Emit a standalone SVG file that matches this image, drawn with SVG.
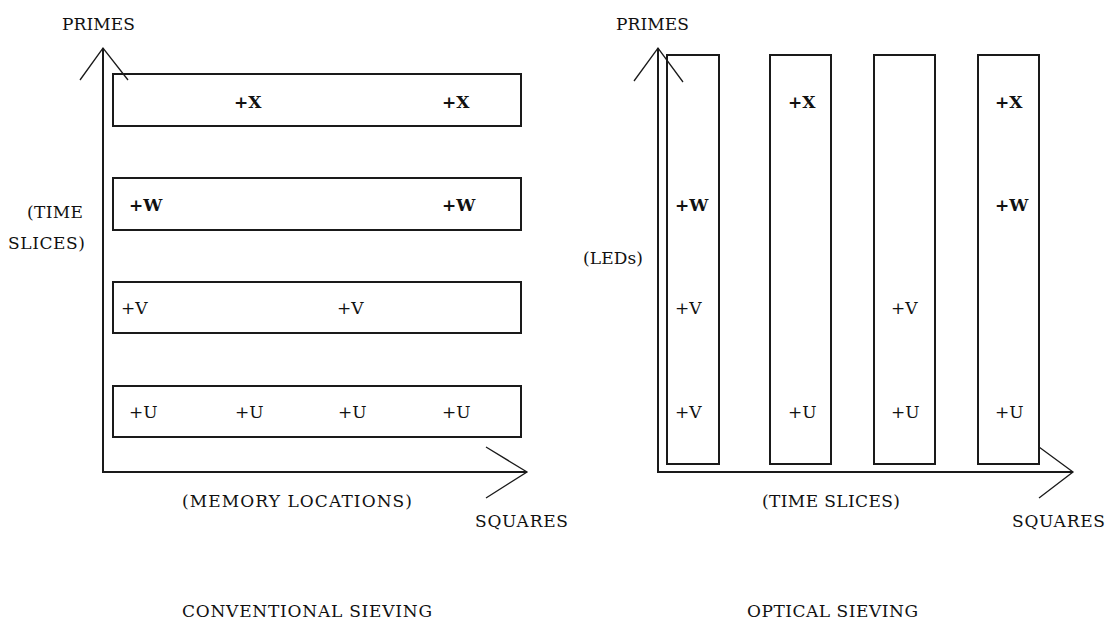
<svg xmlns="http://www.w3.org/2000/svg" width="1109" height="621" viewBox="0 0 1109 621">
<style>
.ax{fill:none;stroke:#1a1a1a;stroke-width:2}
.bx{fill:none;stroke:#1a1a1a;stroke-width:2}
.hd{fill:none;stroke:#1a1a1a;stroke-width:1.3}
text{font-family:"DejaVu Serif","Liberation Serif",serif;font-size:17px;fill:#111}
.b{font-weight:bold}
</style>
<rect width="1109" height="621" fill="#fff"/>
<g id="connectors">
  <line class="ax" x1="103" y1="48" x2="103" y2="472"/>
  <line class="ax" x1="102" y1="472" x2="527" y2="472"/>
  <polyline class="hd" points="80,80 103,48 128,80"/>
  <polyline class="hd" points="486,447 527,472 486,498"/>
  <line class="ax" x1="658" y1="48" x2="658" y2="472"/>
  <line class="ax" x1="657" y1="472" x2="1073" y2="472"/>
  <polyline class="hd" points="634,81 658,48 683,82"/>
  <polyline class="hd" points="1039,447 1073,472 1039,498"/>
</g>
<g id="conv-labels">
  <text x="62" y="30" textLength="73">PRIMES</text>
  <text x="27" y="218" textLength="56">(TIME</text>
  <text x="8" y="249" textLength="77">SLICES)</text>
  <text x="182" y="507" textLength="230">(MEMORY LOCATIONS)</text>
  <text x="475" y="527" textLength="93">SQUARES</text>
  <text x="182" y="617" textLength="250">CONVENTIONAL SIEVING</text>
</g>
<g id="conv-row-x">
  <rect class="bx" x="113" y="74" width="408" height="52"/>
  <text class="b" x="234" y="108">+X</text>
  <text class="b" x="442" y="108">+X</text>
</g>
<g id="conv-row-w">
  <rect class="bx" x="113" y="178" width="408" height="52"/>
  <text class="b" x="129" y="211">+W</text>
  <text class="b" x="442" y="211">+W</text>
</g>
<g id="conv-row-v">
  <rect class="bx" x="113" y="282" width="408" height="51"/>
  <text x="121" y="314">+V</text>
  <text x="337" y="314">+V</text>
</g>
<g id="conv-row-u">
  <rect class="bx" x="113" y="386" width="408" height="51"/>
  <text x="129" y="418">+U</text>
  <text x="235" y="418">+U</text>
  <text x="338" y="418">+U</text>
  <text x="442" y="418">+U</text>
</g>
<g id="opt-labels">
  <text x="616" y="30" textLength="73">PRIMES</text>
  <text x="583" y="264" textLength="60">(LEDs)</text>
  <text x="762" y="507" textLength="138">(TIME SLICES)</text>
  <text x="1012" y="527" textLength="93">SQUARES</text>
  <text x="747" y="617" textLength="171">OPTICAL SIEVING</text>
</g>
<g id="opt-col-1">
  <rect class="bx" x="667" y="55" width="52" height="409"/>
  <text class="b" x="675" y="211">+W</text>
  <text x="675" y="314">+V</text>
  <text x="675" y="418">+V</text>
</g>
<g id="opt-col-2">
  <rect class="bx" x="770" y="55" width="61" height="409"/>
  <text class="b" x="788" y="108">+X</text>
  <text x="788" y="418">+U</text>
</g>
<g id="opt-col-3">
  <rect class="bx" x="874" y="55" width="61" height="409"/>
  <text x="891" y="314">+V</text>
  <text x="891" y="418">+U</text>
</g>
<g id="opt-col-4">
  <rect class="bx" x="978" y="55" width="61" height="409"/>
  <text class="b" x="995" y="108">+X</text>
  <text class="b" x="995" y="211">+W</text>
  <text x="995" y="418">+U</text>
</g>
</svg>
